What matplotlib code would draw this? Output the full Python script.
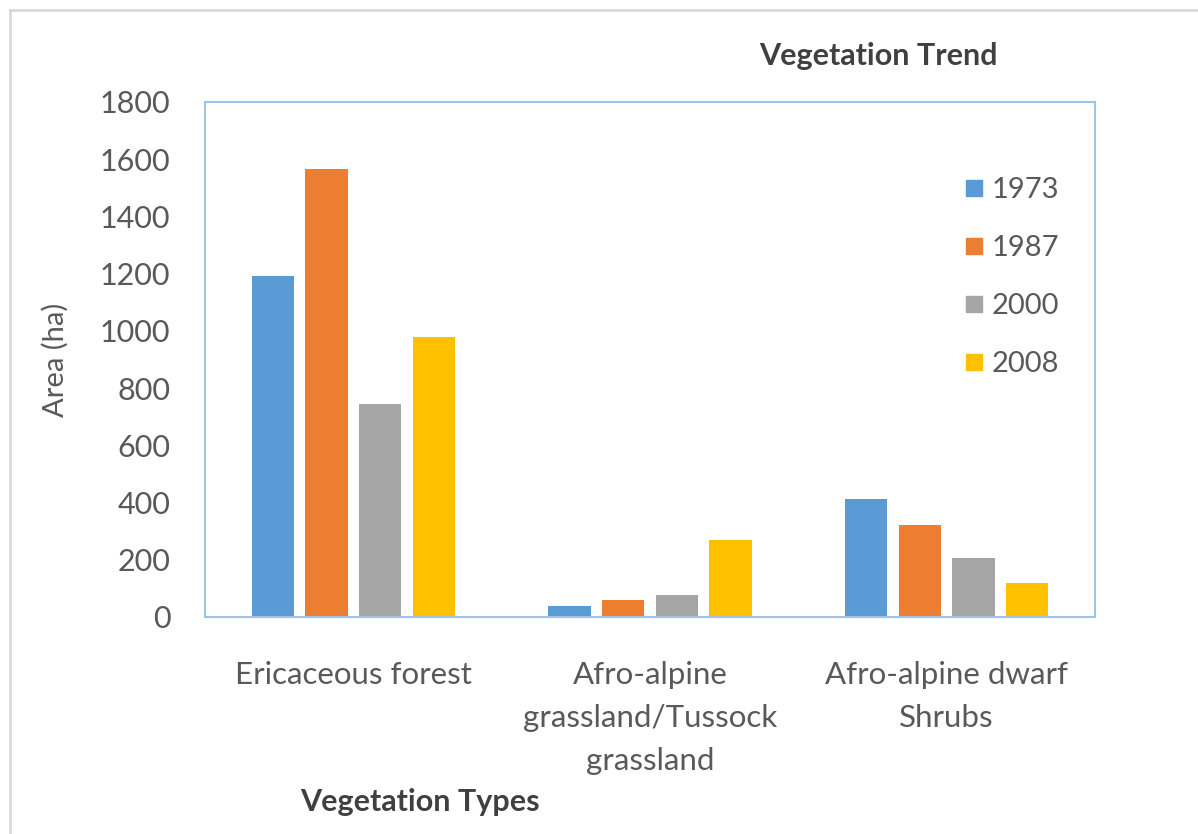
import matplotlib.pyplot as plt
import numpy as np
from matplotlib.lines import Line2D

plt.rcParams['font.family'] = ['Lato', 'DejaVu Sans']

# data
categories = ['Ericaceous forest', 'Afro-alpine\ngrassland/Tussock\ngrassland', 'Afro-alpine dwarf\nShrubs']
years = ['1973', '1987', '2000', '2008']
area_1973 = [1192, 40, 413]
area_1987 = [1566, 60, 323]
area_2000 = [745, 76, 206]
area_2008 = [980, 270, 118]
colors = ['#5B9BD5', '#ED7D31', '#A5A5A5', '#FFC000']

series = [area_1973, area_1987, area_2000, area_2008]

fig = plt.figure(figsize=(11.98, 8.34), dpi=100)
ax = fig.add_axes([205 / 1198, 1 - 617 / 834, 890 / 1198, 515 / 834])

x = np.arange(len(categories))
step = 0.181
width = 0.142
for i, (vals, col, yr) in enumerate(zip(series, colors, years)):
    ax.bar(x + (i - 1.5) * step, vals, width=width, color=col, label=yr)

ax.set_xlim(-0.5, 2.5)
ax.set_ylim(0, 1800)
ax.set_yticks(range(0, 1801, 200))
ax.set_xticks(x)
ax.set_xticklabels(categories, linespacing=1.65)
ax.tick_params(axis='both', length=0, colors='#595959')
ax.tick_params(axis='y', labelsize=22, pad=25)
ax.tick_params(axis='x', labelsize=22.5, pad=32)
for s in ax.spines.values():
    s.set_color('#9DC3E6')
    s.set_linewidth(1.5)

ax.set_ylabel('Area (ha)', fontsize=21, color='#595959', labelpad=22)
fig.text(878 / 1198, 1 - 56 / 834, 'Vegetation Trend', fontsize=22, fontweight='bold',
         color='#404040', ha='center', va='center')
fig.text(420 / 1198, 1 - 802 / 834, 'Vegetation Types', fontsize=22, fontweight='bold',
         color='#404040', ha='center', va='center')

handles = [Line2D([], [], marker='s', linestyle='none', markersize=12, color=c) for c in colors]
ax.legend(handles, years, loc='upper left', bbox_to_anchor=(0.835, 0.882), frameon=False,
          fontsize=21, labelcolor='#595959', handlelength=0.8, handletextpad=0.2,
          labelspacing=1.09, borderpad=0)

# outer chart border (top and left visible)
fig.add_artist(Line2D([10 / 1198, 1], [1 - 10 / 834, 1 - 10 / 834], color='#D9D9D9', lw=2))
fig.add_artist(Line2D([10 / 1198, 10 / 1198], [0, 1 - 10 / 834], color='#D9D9D9', lw=2))

fig.savefig('out.png', dpi=100)
